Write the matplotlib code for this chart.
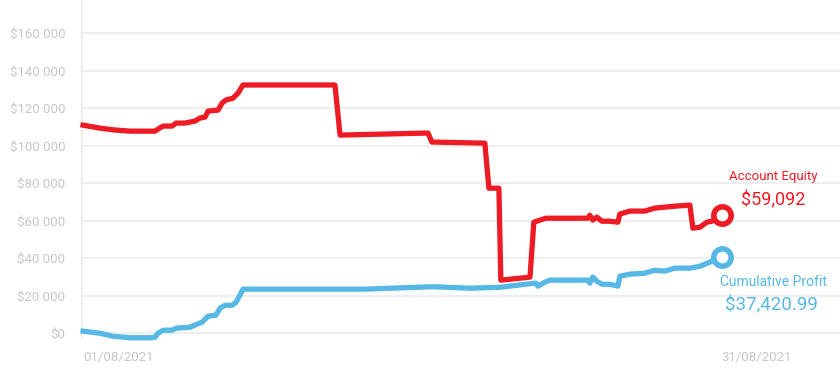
import matplotlib
matplotlib.use("Agg")
import matplotlib.pyplot as plt
import matplotlib.dates as mdates
import pandas as pd

# days elapsed since 01/08/2021 00:00, and the value in $
equity_days = [0.00, 0.80, 1.50, 2.21, 3.15, 3.38, 3.52, 3.76, 4.18, 4.37, 4.79, 5.26,
               5.49, 5.73, 5.87, 6.34, 6.53, 6.71, 7.04, 7.28, 7.51, 11.83, 12.07, 13.94,
               16.20, 16.38, 18.87, 19.06, 19.53, 19.62, 20.99, 21.17, 21.46, 21.74, 23.71,
               23.80, 23.94, 24.13, 24.37, 24.74, 25.12, 25.21, 25.68, 26.38, 26.85, 27.32,
               27.79, 28.50, 28.64, 28.97, 29.30, 29.53, 30.00]
equity_vals = [110900, 109300, 108300, 107700, 107700, 107700, 108800, 110400, 110400,
               112000, 112000, 113100, 114700, 115200, 118400, 118900, 122700, 124300,
               125300, 128000, 132300, 132300, 105600, 106100, 106700, 101900, 101300,
               77300, 77300, 28300, 29900, 59200, 60300, 61300, 61300, 62900, 60300,
               61900, 59700, 59700, 59200, 63500, 65100, 65100, 66700, 67200, 67700,
               68300, 56000, 56500, 59200, 59700, 62900]

profit_days = [0.00, 0.80, 1.41, 2.21, 3.15, 3.38, 3.52, 3.76, 4.18, 4.37, 5.02, 5.35,
               5.59, 5.87, 6.24, 6.43, 6.67, 7.00, 7.18, 7.37, 7.51, 13.24, 16.43, 18.17,
               19.58, 20.99, 21.27, 21.36, 21.69, 21.92, 23.71, 23.80, 23.94, 24.13, 24.37,
               24.74, 25.12, 25.21, 25.68, 26.38, 26.85, 27.32, 27.79, 28.50, 28.97, 29.44,
               30.00]
profit_vals = [1100, 0, -1600, -2400, -2400, -2100, 0, 1600, 1600, 2700, 3200, 4800,
               5900, 9100, 9600, 13300, 14900, 14900, 16500, 20300, 23500, 23500, 24800,
               24000, 24500, 26400, 26700, 25100, 27200, 28300, 28300, 26700, 29900,
               27700, 26100, 26100, 25100, 30400, 31500, 32000, 33600, 33100, 34700,
               34700, 35700, 37900, 40800]

equity_label = "$59,092"
profit_label = "$37,420.99"
yticks = list(range(0, 160001, 20000))

red = "#ED1C24"
blue = "#57B8E5"

plt.rcParams['font.family'] = ['Roboto', 'DejaVu Sans']

start = pd.Timestamp("2021-08-01")
eq_t = start + pd.to_timedelta(equity_days, unit="D")
pr_t = start + pd.to_timedelta(profit_days, unit="D")

fig = plt.figure(figsize=(8.4, 3.83), dpi=100)
ax = fig.add_axes([82 / 840, 46 / 383, 758 / 840, 337 / 383])

ax.plot(eq_t, equity_vals, color=red, lw=3.8, solid_joinstyle="round", zorder=3, clip_on=False)
ax.plot(pr_t, profit_vals, color=blue, lw=3.8, solid_joinstyle="round", zorder=3, clip_on=False)
ax.plot(eq_t[-1], equity_vals[-1], "o", ms=12.5, mfc="white", mec=red, mew=4, zorder=4)
ax.plot(pr_t[-1], profit_vals[-1], "o", ms=12.5, mfc="white", mec=blue, mew=4, zorder=4)

ax.annotate("Account Equity", (eq_t[-1], equity_vals[-1]), xytext=(37, 28),
            textcoords="offset points", ha="center", va="center", color=red, fontsize=9.5)
ax.annotate(equity_label, (eq_t[-1], equity_vals[-1]), xytext=(37, 11),
            textcoords="offset points", ha="center", va="center", color=red, fontsize=13)
ax.annotate("Cumulative Profit", (pr_t[-1], profit_vals[-1]), xytext=(37, -18),
            textcoords="offset points", ha="center", va="center", color=blue, fontsize=10)
ax.annotate(profit_label, (pr_t[-1], profit_vals[-1]), xytext=(36, -35),
            textcoords="offset points", ha="center", va="center", color=blue, fontsize=13.5)

ax.set_ylim(-2000, 177600)
ax.set_xlim(start - pd.Timedelta(days=0.05), start + pd.Timedelta(days=35.55))
ax.set_yticks(yticks)
ax.set_yticklabels(["$0" if v == 0 else "$" + f"{v:,}".replace(",", " ") for v in yticks])
ax.set_xticks([start, start + pd.Timedelta(days=30)])
ax.xaxis.set_major_formatter(mdates.DateFormatter("%d/%m/%Y"))
for lab in ax.get_xticklabels():
    lab.set_ha("left")

ax.tick_params(axis="both", length=0, colors="#c8c8c8", labelsize=9.5)
ax.tick_params(axis="y", pad=12)
ax.tick_params(axis="x", pad=10)
ax.grid(axis="y", color="#efefef", lw=1.6)
ax.set_axisbelow(True)
for s in ["top", "right", "bottom"]:
    ax.spines[s].set_visible(False)
ax.spines["left"].set_color("#eeeeee")
ax.spines["left"].set_linewidth(1.6)

fig.savefig("out.png", dpi=100)
